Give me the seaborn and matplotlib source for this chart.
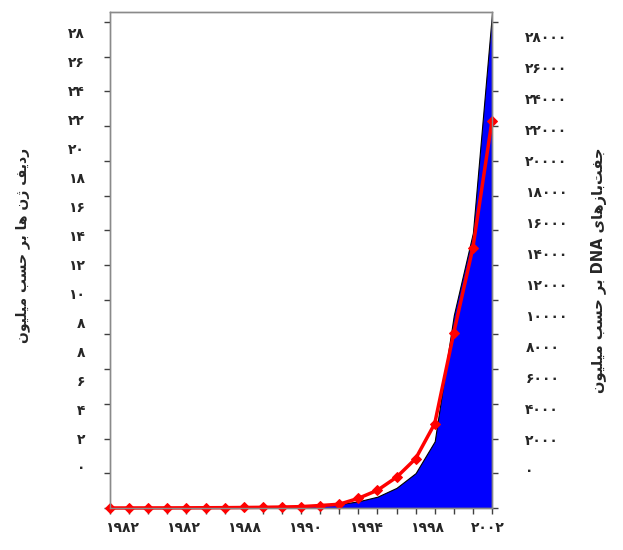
import matplotlib
matplotlib.use('Agg')
import matplotlib.pyplot as plt
import numpy as np
import pandas as pd
import seaborn as sns

# GenBank growth, 1982-2002
years = [1982, 1983, 1984, 1985, 1986, 1987, 1988, 1989, 1990, 1991, 1992,
         1993, 1994, 1995, 1996, 1997, 1998, 1999, 2000, 2001, 2002]
# sequences, millions (left axis)
sequences = [0.0006, 0.0024, 0.0043, 0.0057, 0.0096, 0.015, 0.020, 0.029, 0.039,
             0.055, 0.079, 0.143, 0.216, 0.556, 1.02, 1.77, 2.84, 4.86, 10.1,
             15.0, 22.3]
# base pairs, millions (right axis)
base_pairs = [0.7, 2.3, 3.4, 5.2, 9.6, 15.5, 23.8, 34.8, 49.2, 71.9, 101, 157,
              217, 384, 651, 1160, 2008, 3841, 11101, 15849, 28507]

left_labels = ['۲۸', '۲۶', '۲۴', '۲۲', '۲۰', '۱۸', '۱۶', '۱۴', '۱۲', '۱۰',
               '۸', '۸', '۶', '۴', '۲', '۰']
right_labels = ['۲۸۰۰۰', '۲۶۰۰۰', '۲۴۰۰۰', '۲۲۰۰۰', '۲۰۰۰۰', '۱۸۰۰۰', '۱۶۰۰۰',
                '۱۴۰۰۰', '۱۲۰۰۰', '۱۰۰۰۰', '۸۰۰۰', '۶۰۰۰', '۴۰۰۰', '۲۰۰۰', '۰']
x_labels = ['۱۹۸۲', '۱۹۸۲', '۱۹۸۸', '۱۹۹۰', '۱۹۹۴', '۱۹۹۸', '۲۰۰۲']

left_title = 'ردیف ژن ها بر حسب میلیون'
right_title = 'جفت\u200cبازهای DNA بر حسب میلیون'

# matplotlib does no arabic shaping, so pick the presentation forms by hand
# (isolated, final, initial, medial)
FORMS = {
    'ا': ('\uFE8D', '\uFE8E', None, None),
    'ب': ('\uFE8F', '\uFE90', '\uFE91', '\uFE92'),
    'ت': ('\uFE95', '\uFE96', '\uFE97', '\uFE98'),
    'ج': ('\uFE9D', '\uFE9E', '\uFE9F', '\uFEA0'),
    'ح': ('\uFEA1', '\uFEA2', '\uFEA3', '\uFEA4'),
    'د': ('\uFEA9', '\uFEAA', None, None),
    'ر': ('\uFEAD', '\uFEAE', None, None),
    'ز': ('\uFEAF', '\uFEB0', None, None),
    'ژ': ('\uFB8A', '\uFB8B', None, None),
    'س': ('\uFEB1', '\uFEB2', '\uFEB3', '\uFEB4'),
    'ف': ('\uFED1', '\uFED2', '\uFED3', '\uFED4'),
    'ل': ('\uFEDD', '\uFEDE', '\uFEDF', '\uFEE0'),
    'م': ('\uFEE1', '\uFEE2', '\uFEE3', '\uFEE4'),
    'ن': ('\uFEE5', '\uFEE6', '\uFEE7', '\uFEE8'),
    'ه': ('\uFEE9', '\uFEEA', '\uFEEB', '\uFEEC'),
    'و': ('\uFEED', '\uFEEE', None, None),
    'ی': ('\uFBFC', '\uFBFD', '\uFBFE', '\uFBFF'),
}


def shape(word):
    out = []
    for i, c in enumerate(word):
        if c not in FORMS:
            out.append(c)
            continue
        prev = word[i - 1] if i > 0 else None
        nxt = word[i + 1] if i + 1 < len(word) else None
        jp = prev in FORMS and FORMS[prev][2] is not None
        jn = FORMS[c][2] is not None and nxt in FORMS
        iso, fin, ini, med = FORMS[c]
        if jp and jn:
            out.append(med)
        elif jp:
            out.append(fin)
        elif jn:
            out.append(ini)
        else:
            out.append(iso)
    return ''.join(out).replace('\u200c', '')


def visual(text):
    res = []
    for t in reversed(text.split(' ')):
        if any(ch in FORMS for ch in t):
            res.append(shape(t)[::-1])
        else:
            res.append(t)
    return ' '.join(res)


sns.set_style('white')
plt.rcParams['font.family'] = ['DejaVu Sans', 'Noto Sans']

df = pd.DataFrame({'year': years, 'seq': sequences,
                   'bp': np.array(base_pairs)})

fig = plt.figure(figsize=(6.23, 5.5), dpi=100)
ax = fig.add_axes([110 / 623, 1 - 508 / 550, 382 / 623, 496 / 550])
ax2 = ax.twinx()

ymax = 28.57
ax.set_ylim(0, ymax)
ax2.set_ylim(0, ymax * 1000)
ax.set_xlim(1982, 2002)

# blue area for base pairs
ax2.fill_between(df['year'], df['bp'], color='#0000ff', edgecolor='black', linewidth=0.8)

# red line for sequences, drawn over the area
ax.set_zorder(ax2.get_zorder() + 1)
ax.patch.set_visible(False)
sns.lineplot(data=df, x='year', y='seq', ax=ax, color='red', linewidth=2.5,
             marker='D', markersize=5, markeredgecolor='red', clip_on=False)

# tick marks (minor) and the shifted labels (major, no tick line)
ax.set_yticks(np.arange(0, 29, 2), minor=True)
ax2.set_yticks(np.arange(0, 29000, 2000), minor=True)
ax.set_xticks(years, minor=True)

ax.set_yticks(np.linspace((508 - 467) / 17.36, (508 - 33) / 17.36, len(left_labels))[::-1])
ax.set_yticklabels(left_labels)
ax2.set_yticks(np.linspace((508 - 470) * 1000 / 17.36, (508 - 37) * 1000 / 17.36,
                           len(right_labels))[::-1])
ax2.set_yticklabels(right_labels)
ax.set_xticks(np.linspace(1982.6, 2001.8, len(x_labels)))
ax.set_xticklabels(x_labels)

for a in (ax, ax2):
    a.tick_params(which='major', length=0, labelsize=10)
    a.tick_params(which='minor', length=4, width=1, color='#404040', direction='out')
    for lab in a.get_xticklabels() + a.get_yticklabels():
        lab.set_fontweight('bold')
    for s in a.spines.values():
        s.set_color('#8a8a8a')
        s.set_linewidth(1)
ax.tick_params(axis='y', which='minor', left=True, right=False)
ax.tick_params(axis='x', which='minor', bottom=True)
ax.tick_params(axis='y', which='major', pad=18)
ax.tick_params(axis='x', which='major', pad=9)
ax2.tick_params(axis='y', which='minor', right=True)
ax2.tick_params(axis='y', which='major', pad=24)

ax.set_xlabel('')
ax.set_ylabel(visual(left_title), fontsize=10, fontweight='bold')
ax2.set_ylabel(visual(right_title), fontsize=10.5, fontweight='bold')
ax.yaxis.set_label_coords(-0.21, 0.53)
ax2.yaxis.set_label_coords(1.26, 0.48)

plt.savefig('out.png', dpi=100)
